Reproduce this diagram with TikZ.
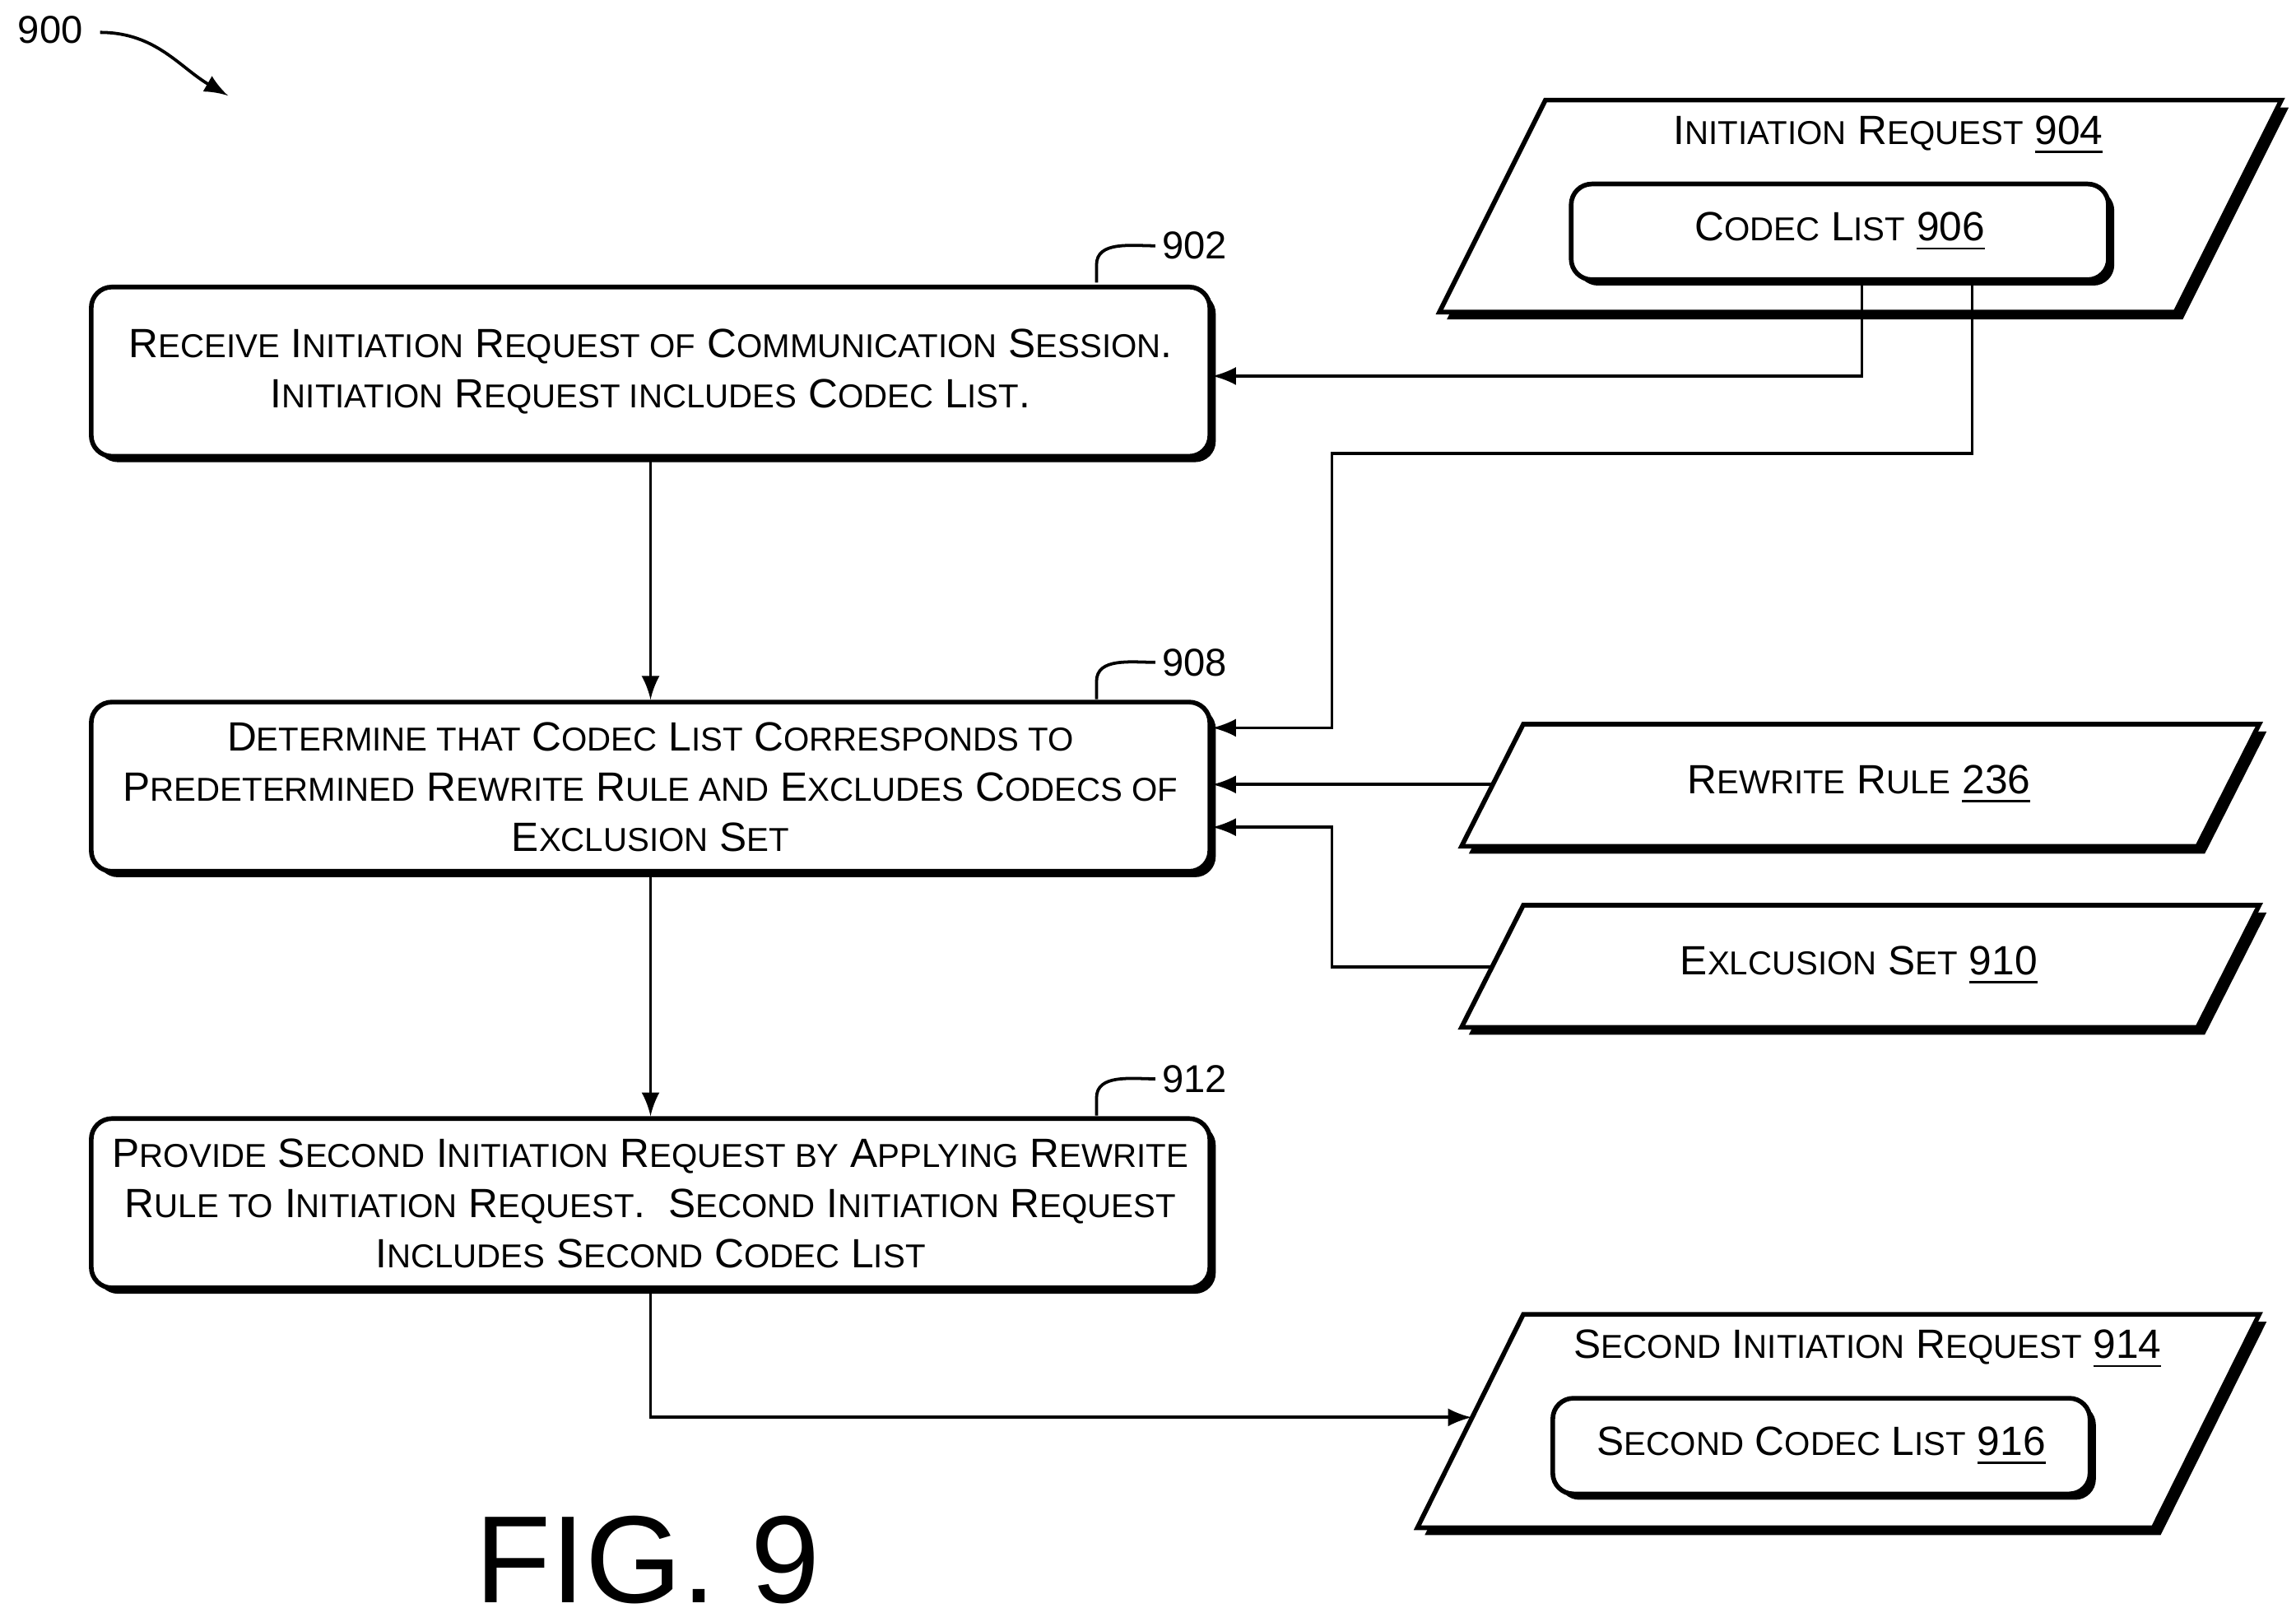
\documentclass[tikz,border=0pt]{standalone}
\usepackage{fontspec}
\setmainfont{Liberation Sans}
\usetikzlibrary{shadows,calc}
\newcommand{\Sm}[1]{{\fontsize{6.4}{9.5}\selectfont #1}}
\newcommand{\LINEW}{0.9pt}

\tikzset{
	stepbox/.style={draw,rounded corners=4pt,fill=white,line width=\LINEW,
		minimum width=7.6cm,minimum height=1.15cm,align=center,
		drop shadow={fill=black,opacity=1,shadow xshift=0.04cm,shadow yshift=-0.04cm}},
	databox/.style={draw,rounded corners=4pt,fill=white,line width=\LINEW,
		minimum width=3.65cm,minimum height=0.65cm,
		drop shadow={fill=black,opacity=1,shadow xshift=0.04cm,shadow yshift=-0.04cm}},
	flow/.style={-latex,line width=0.6pt},
	refnum/.style={font=\fontsize{7.5}{9}\selectfont,anchor=west,inner sep=1pt},
}
\newcommand{\leader}[3]{\draw[line width=0.6pt] (#1,#2) -- (#1,#2+0.12) to[out=90,in=180] (#1+0.4,#2+0.25) node[refnum]{#3};}
\newcommand{\para}[5]{% x-bottom-left, y-bottom, x-top-left, y-top, width
	\fill[black] (#1+0.05,#2-0.05) -- (#1+#5+0.05,#2-0.05) -- (#3+#5+0.05,#4-0.05) -- (#3+0.05,#4-0.05) -- cycle;
	\draw[fill=white,line width=\LINEW] (#1,#2) -- (#1+#5,#2) -- (#3+#5,#4) -- (#3,#4) -- cycle;}

\begin{document}
\begin{tikzpicture}[x=1cm,y=1cm,font=\fontsize{7.9}{9.7}\selectfont]
	\useasboundingbox (0,0) rectangle (15.6,-11.02);

	%% reference label
	\node[refnum] (n900) at (0.08,-0.2) {900};
	\draw[-latex,line width=0.6pt] (0.68,-0.22) to[out=0,in=150] (1.55,-0.65);

	%% parallelograms
	\para{9.78}{-2.12}{10.5}{-0.68}{5.0}
	\para{9.93}{-5.75}{10.35}{-4.92}{5.0}
	\para{9.93}{-6.98}{10.35}{-6.15}{5.0}
	\para{9.63}{-10.38}{10.35}{-8.93}{5.0}

	\node (req904) at (12.83,-0.92) {I\Sm{NITIATION} R\Sm{EQUEST} \underline{904}};
	\node[databox] (list906) at (12.5,-1.575) {C\Sm{ODEC} L\Sm{IST} \underline{906}};
	\node (rule236) at (12.63,-5.33) {R\Sm{EWRITE} R\Sm{ULE} \underline{236}};
	\node (set910) at (12.63,-6.56) {E\Sm{XLCUSION} S\Sm{ET} \underline{910}};
	\node (req914) at (12.69,-9.17) {S\Sm{ECOND} I\Sm{NITIATION} R\Sm{EQUEST} \underline{914}};
	\node[databox] (list916) at (12.375,-9.825) {S\Sm{ECOND} C\Sm{ODEC} L\Sm{IST} \underline{916}};

	%% steps
	\node[stepbox] (s902) at (4.42,-2.525) {R\Sm{ECEIVE} I\Sm{NITIATION} R\Sm{EQUEST OF} C\Sm{OMMUNICATION} S\Sm{ESSION}.\\I\Sm{NITIATION} R\Sm{EQUEST INCLUDES} C\Sm{ODEC} L\Sm{IST}.};
	\node[stepbox] (s908) at (4.42,-5.345) {D\Sm{ETERMINE THAT} C\Sm{ODEC} L\Sm{IST} C\Sm{ORRESPONDS TO}\\P\Sm{REDETERMINED} R\Sm{EWRITE} R\Sm{ULE AND} E\Sm{XCLUDES} C\Sm{ODECS OF}\\E\Sm{XCLUSION} S\Sm{ET}};
	\node[stepbox] (s912) at (4.42,-8.175) {P\Sm{ROVIDE} S\Sm{ECOND} I\Sm{NITIATION} R\Sm{EQUEST BY} A\Sm{PPLYING} R\Sm{EWRITE}\\R\Sm{ULE TO} I\Sm{NITIATION} R\Sm{EQUEST}.\ \ S\Sm{ECOND} I\Sm{NITIATION} R\Sm{EQUEST}\\I\Sm{NCLUDES} S\Sm{ECOND} C\Sm{ODEC} L\Sm{IST}};

	\leader{7.45}{-1.92}{902}
	\leader{7.45}{-4.75}{908}
	\leader{7.45}{-7.58}{912}

	%% connectors
	\draw[flow] (list906.south -| 12.65,0) |- ($(s902.east)+(0,-0.03)$);
	\draw[flow] (list906.south -| 13.4,0) |- (9.05,-3.08) |- ($(s908.east)+(0,0.4)$);
	\draw[flow] (10.13,-5.33) -- (s908.east |- 0,-5.33);
	\draw[flow] (10.13,-6.57) -| (9.05,-5.62) -- (s908.east |- 0,-5.62);
	\draw[flow] (s902) -- (s908);
	\draw[flow] (s908) -- (s912);
	\draw[flow] (s912) |- (10.0,-9.63);

	\node[inner sep=1pt] (fig) at (4.4,-10.6) {\fontsize{24}{24}\selectfont FIG. 9};
\end{tikzpicture}
\end{document}
